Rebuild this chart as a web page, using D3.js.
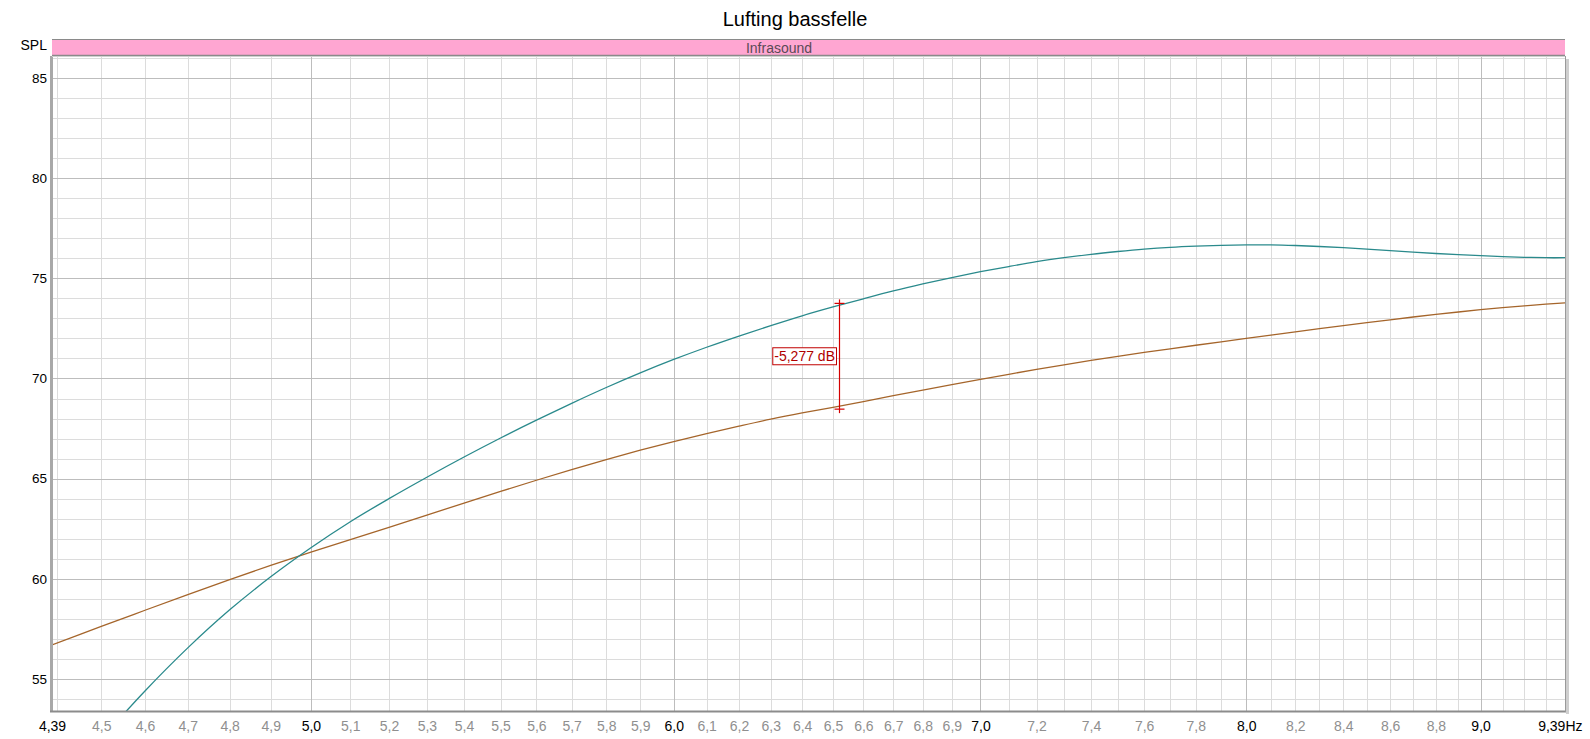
<!DOCTYPE html>
<html><head><meta charset="utf-8">
<script src="https://cdn.jsdelivr.net/npm/d3@7"></script>
<style>
body{margin:0;background:#fff;}
svg{display:block;font-family:"Liberation Sans",Arial,sans-serif;}
</style></head>
<body><svg id="c" width="1590" height="739"></svg>
<script>
// ---- data ----
const title = "Lufting bassfelle";
const bandLabel = "Infrasound";
const yAxisLabel = "SPL";
const freqTeal = [4.5,4.6,4.7,4.8,4.9,5.0,5.1,5.2,5.3,5.4,5.5,5.6,5.7,5.8,5.9,6.0,6.1,6.2,6.3,6.4,6.5,6.6,6.7,6.8,6.9,7.0,7.1,7.2,7.3,7.4,7.5,7.6,7.7,7.8,7.9,8.0,8.1,8.2,8.3,8.4,8.5,8.6,8.7,8.8,8.9,9.0,9.1,9.2,9.3,9.39];
const splTeal = [52.0,54.4,56.55,58.45,60.1,61.55,62.85,64.0,65.07,66.08,67.03,67.92,68.76,69.55,70.28,70.95,71.56,72.12,72.64,73.13,73.57,73.98,74.37,74.72,75.04,75.33,75.59,75.83,76.03,76.2,76.34,76.46,76.55,76.61,76.65,76.67,76.67,76.64,76.59,76.53,76.46,76.38,76.31,76.24,76.18,76.13,76.08,76.05,76.03,76.03];
const freqBrown = [4.39,4.5,4.6,4.7,4.8,4.9,5.0,5.1,5.2,5.3,5.4,5.5,5.6,5.7,5.8,5.9,6.0,6.1,6.2,6.3,6.4,6.5,6.6,6.7,6.8,6.9,7.0,7.1,7.2,7.3,7.4,7.5,7.6,7.7,7.8,7.9,8.0,8.1,8.2,8.3,8.4,8.5,8.6,8.7,8.8,8.9,9.0,9.1,9.2,9.3,9.39];
const splBrown = [56.7,57.62,58.43,59.21,59.96,60.67,61.33,61.95,62.57,63.18,63.78,64.36,64.92,65.45,65.95,66.42,66.85,67.25,67.62,67.97,68.28,68.56,68.85,69.14,69.42,69.69,69.96,70.21,70.45,70.68,70.9,71.1,71.3,71.48,71.66,71.83,72.0,72.17,72.33,72.49,72.64,72.79,72.93,73.07,73.2,73.32,73.44,73.54,73.63,73.71,73.78];
const markerFreq = [6.52];
const markerLevels = [73.75, 68.47];
const markerText = "-5,277 dB";
const yTicks = [55,60,65,70,75,80,85];
const xLabelTicks = [4.39,4.5,4.6,4.7,4.8,4.9,5.0,5.1,5.2,5.3,5.4,5.5,5.6,5.7,5.8,5.9,6.0,6.1,6.2,6.3,6.4,6.5,6.6,6.7,6.8,6.9,7.0,7.2,7.4,7.6,7.8,8.0,8.2,8.4,8.6,8.8,9.0,9.39];
const xMajorTicks = [4.39,5.0,6.0,7.0,8.0,9.0,9.39];
const xMajorGrid = [5,6,7,8,9];
const xMinorGrid = d3.range(44,94).map(d=>d/10);
const yMinorGrid = d3.range(54,87);
const xDomain = [4.39, 9.39];
const yDomain = [53.4, 86.05];

// ---- layout ----
const L=52, R=1565, T=57, B=711;
const svg = d3.select("#c");
const x = d3.scaleLog().domain(xDomain).range([L,R]);
const y = d3.scaleLinear().domain(yDomain).range([B,T]);
const fmt = v => (v===4.39||v===9.39) ? d3.format(".2f")(v).replace(".",",") : d3.format(".1f")(v).replace(".",",");

// title
svg.append("text").attr("x",795).attr("y",26).attr("text-anchor","middle")
  .style("font-size","20px").attr("fill","#000").text(title);

// band
svg.append("rect").attr("x",L).attr("y",39.5).attr("width",R-L).attr("height",16)
  .attr("fill","#ffa6d2").attr("stroke","none");
svg.append("line").attr("x1",L).attr("x2",R).attr("y1",39.5).attr("y2",39.5).attr("stroke","#8a8a8a");
svg.append("line").attr("x1",L).attr("x2",R).attr("y1",55.5).attr("y2",55.5).attr("stroke","#8a8a8a").attr("stroke-width",1.5);
svg.append("text").attr("x",779).attr("y",52.5).attr("text-anchor","middle")
  .style("font-size","14px").attr("fill","#5a4a55").text(bandLabel);
svg.append("text").attr("x",47).attr("y",50).attr("text-anchor","end")
  .style("font-size","14px").attr("fill","#000").text(yAxisLabel);

// grid
const g = svg.append("g");
g.append("g").attr("transform",`translate(0,${B})`)
  .call(d3.axisBottom(x).tickValues(xMinorGrid).tickSize(-(B-T)).tickFormat(""))
  .call(s=>{s.select(".domain").remove(); s.selectAll("line").attr("stroke","#dcdcdc").attr("shape-rendering","crispEdges");});
g.append("g").attr("transform",`translate(${L},0)`)
  .call(d3.axisLeft(y).tickValues(yMinorGrid).tickSize(-(R-L)).tickFormat(""))
  .call(s=>{s.select(".domain").remove(); s.selectAll("line").attr("stroke","#dcdcdc").attr("shape-rendering","crispEdges");});
g.append("g").attr("transform",`translate(0,${B})`)
  .call(d3.axisBottom(x).tickValues(xMajorGrid).tickSize(-(B-T)).tickFormat(""))
  .call(s=>{s.select(".domain").remove(); s.selectAll("line").attr("stroke","#bdbdbd").attr("shape-rendering","crispEdges");});
g.append("g").attr("transform",`translate(${L},0)`)
  .call(d3.axisLeft(y).tickValues(yTicks).tickSize(-(R-L)).tickFormat(""))
  .call(s=>{s.select(".domain").remove(); s.selectAll("line").attr("stroke","#bdbdbd").attr("shape-rendering","crispEdges");});

// y labels
svg.append("g").attr("transform",`translate(47,0)`)
  .call(d3.axisLeft(y).tickValues(yTicks).tickSize(0).tickPadding(0).tickFormat(d3.format("d")))
  .call(s=>{s.select(".domain").remove(); s.selectAll("text").style("font-size","13.5px").attr("fill","#000").attr("font-family","Liberation Sans, Arial, sans-serif");});

// x labels
const xa = svg.append("g").attr("transform",`translate(0,${B})`)
  .call(d3.axisBottom(x).tickValues(xLabelTicks).tickSize(0).tickPadding(10).tickFormat(fmt));
xa.select(".domain").remove();
xa.selectAll("text").style("font-size","14px").attr("font-family","Liberation Sans, Arial, sans-serif")
  .attr("fill", d => xMajorTicks.includes(d) ? "#000" : "#8f8f8f");
xa.selectAll(".tick").filter(d=>d===9.39).select("text").text(fmt(9.39)+"Hz").attr("text-anchor","end").attr("dx",17);

// clip
svg.append("clipPath").attr("id","pc").append("rect").attr("x",L).attr("y",T).attr("width",R-L).attr("height",B-T);

const line = d3.line().x(d=>x(d[0])).y(d=>y(d[1])).curve(d3.curveCatmullRom.alpha(0.5));
const cg = svg.append("g").attr("clip-path","url(#pc)");
cg.append("path").datum(d3.zip(freqBrown,splBrown)).attr("d",line)
  .attr("fill","none").attr("stroke","#a5652b").attr("stroke-width",1.3);
cg.append("path").datum(d3.zip(freqTeal,splTeal)).attr("d",line)
  .attr("fill","none").attr("stroke","#2a8a8c").attr("stroke-width",1.3);

// frame
svg.append("line").attr("x1",L-0.5).attr("x2",L-0.5).attr("y1",T-1).attr("y2",B+1).attr("stroke","#a8a8a8").attr("stroke-width",3);
svg.append("line").attr("x1",L-2).attr("x2",R+1).attr("y1",B+0.5).attr("y2",B+0.5).attr("stroke","#8c8c8c").attr("stroke-width",2);
svg.append("line").attr("x1",R+0.5).attr("x2",R+0.5).attr("y1",T-1).attr("y2",B+1).attr("stroke","#9a9a9a").attr("stroke-width",1);
svg.append("line").attr("x1",R+2.5).attr("x2",R+2.5).attr("y1",T+2).attr("y2",B+3).attr("stroke","#cfcfcf").attr("stroke-width",3);
svg.append("line").attr("x1",L).attr("x2",R).attr("y1",T-0.5).attr("y2",T-0.5).attr("stroke","#cfcfcf").attr("stroke-width",1);

// marker
const mx = Math.round(x(markerFreq[0]))+0.5;
const yTop = y(markerLevels[0]), yBot = y(markerLevels[1]);
const mk = svg.append("g");
mk.append("line").attr("x1",mx).attr("x2",mx).attr("y1",yTop-4).attr("y2",yBot+4).attr("stroke","#d40000").attr("stroke-width",1.2);
[yTop,yBot].forEach(v=>{
  mk.append("line").attr("x1",mx-5).attr("x2",mx+5).attr("y1",v).attr("y2",v).attr("stroke","#d40000").attr("stroke-width",1.2);
});
const ymid = (yTop+yBot)/2;
const lt = mk.append("text").attr("x",mx-4.5).attr("y",ymid+5).attr("text-anchor","end")
  .style("font-size","14px").attr("fill","#b00000").text(markerText);
const bb = lt.node().getBBox();
mk.insert("rect","text").attr("x",bb.x-1.5).attr("y",ymid-8.5).attr("width",bb.width+3).attr("height",17)
  .attr("fill","#fff").attr("stroke","#c00000").attr("stroke-width",1);
</script></body></html>
